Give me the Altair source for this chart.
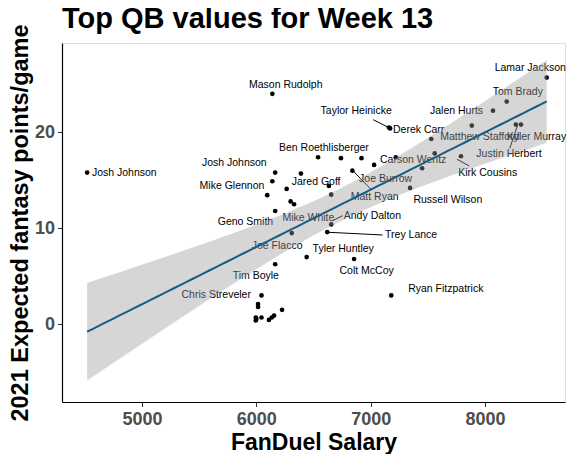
import altair as alt
import pandas as pd
import numpy as np

# ---- data ----
salary = [4520, 6140, 6540, 6740, 6920, 7030, 7220, 7170, 7160, 6840,
          7530, 7560, 7450, 7345, 7790, 7885, 8070, 8190, 8540, 8270,
          8315, 6655, 6635, 6390, 6655, 6620, 6165, 6140, 6265, 6095,
          6300, 6330, 6165, 6310, 6440, 6165, 6855, 7180, 6045, 6015,
          6015, 6225, 5995, 5995, 6045, 6110, 6135, 6155, 6000]
points = [15.8, 24.0, 17.4, 17.3, 17.3, 16.6, 17.4, 20.4, 20.5, 16.0,
          19.3, 17.8, 16.25, 14.2, 17.5, 20.7, 22.25, 23.2, 25.7, 20.8,
          20.8, 13.5, 14.4, 15.7, 10.4, 9.6, 15.8, 14.9, 14.1, 13.45,
          12.8, 12.5, 11.8, 9.5, 7.0, 6.25, 6.8, 3.0, 3.0, 2.1,
          1.8, 1.5, 0.7, 0.4, 0.7, 0.45, 0.7, 0.9, 0.55]

label_names = ["Josh Johnson", "Mason Rudolph", "Ben Roethlisberger", "Josh Johnson",
               "Mike Glennon", "Jared Goff", "Mike White", "Geno Smith", "Andy Dalton",
               "Joe Flacco", "Tyler Huntley", "Trey Lance", "Colt McCoy", "Tim Boyle",
               "Chris Streveler", "Ryan Fitzpatrick", "Taylor Heinicke", "Derek Carr",
               "Lamar Jackson", "Tom Brady", "Jalen Hurts", "Matthew Stafford",
               "Kyler Murray", "Justin Herbert", "Kirk Cousins", "Carson Wentz",
               "Joe Burrow", "Matt Ryan", "Russell Wilson"]
label_x = [4845, 6257, 6591, 5807, 5787, 6523, 6455, 5905, 7015, 6182, 6760, 7354,
           6965, 5995, 5649, 7657, 6873, 7420, 8396, 8287, 7751, 7955, 8450, 8210,
           8024, 7372, 7131, 7035, 7675]
label_y = [15.8, 24.9, 18.36, 16.77, 14.44, 14.82, 11.1, 10.63, 11.25, 8.16, 7.81,
           9.27, 5.55, 5.03, 3.02, 3.65, 22.22, 20.24, 26.67, 24.17, 22.22, 19.48,
           19.54, 17.71, 15.73, 17.08, 15.14, 13.23, 12.95]

# connector segments (point -> label)
seg_x = [7168, 7756, 8284, 6847, 6667, 6628]
seg_y = [20.44, 17.19, 20.69, 15.97, 10.79, 9.58]
seg_x2 = [7022, 7861, 8217, 7008, 6754, 7104]
seg_y2 = [21.31, 16.49, 18.33, 13.99, 11.31, 9.30]

# ---- linear fit with 95% confidence band ----
xa = np.array(salary, dtype=float)
ya = np.array(points, dtype=float)
n = len(xa)
slope, intercept = np.polyfit(xa, ya, 1)
resid = ya - (slope * xa + intercept)
s = np.sqrt(np.sum(resid ** 2) / (n - 2))
sxx = np.sum((xa - xa.mean()) ** 2)
tcrit = 2.012
xg = np.linspace(xa.min(), xa.max(), 80)
fit = slope * xg + intercept
se = s * np.sqrt(1.0 / n + (xg - xa.mean()) ** 2 / sxx)

pts = pd.DataFrame({"salary": salary, "points": points})
labs = pd.DataFrame({"name": label_names, "lx": label_x, "ly": label_y})
segs = pd.DataFrame({"x": seg_x, "y": seg_y, "x2": seg_x2, "y2": seg_y2})
band = pd.DataFrame({"salary": xg, "fit": fit, "lo": fit - tcrit * se, "hi": fit + tcrit * se})

FONT = "Liberation Sans"
xs = alt.Scale(domain=[4300, 8700], nice=False, zero=False)
ys = alt.Scale(domain=[-8.1, 29.3], nice=False, zero=False)

xax = alt.Axis(values=[5000, 6000, 7000, 8000], title="FanDuel Salary", grid=False,
               labelFont=FONT, labelFontSize=18, labelFontWeight="bold", labelColor="#4d4d4d",
               titleFont=FONT, titleFontSize=23, titleFontWeight="bold", titleColor="black",
               domainColor="black", domainWidth=1.2, tickColor="#333333", tickSize=4.5,
               labelPadding=4, titlePadding=3, format="d")
yax = alt.Axis(values=[0, 10, 20], title="2021 Expected fantasy points/game", grid=False,
               labelFont=FONT, labelFontSize=18, labelFontWeight="bold", labelColor="#4d4d4d",
               titleFont=FONT, titleFontSize=23.5, titleFontWeight="bold", titleColor="black",
               domainColor="black", domainWidth=1.2, tickColor="#333333", tickSize=4.5,
               labelPadding=3, titlePadding=2)

base_pts = alt.Chart(pts).mark_circle(color="black", opacity=1, size=22).encode(
    x=alt.X("salary:Q", scale=xs, axis=xax),
    y=alt.Y("points:Q", scale=ys, axis=yax),
)

seg_layer = alt.Chart(segs).mark_rule(color="black", strokeWidth=1).encode(
    x=alt.X("x:Q", scale=xs), y=alt.Y("y:Q", scale=ys), x2="x2:Q", y2="y2:Q"
)

text_layer = alt.Chart(labs).mark_text(font=FONT, fontSize=10.5, color="black",
                                        align="center", baseline="middle").encode(
    x=alt.X("lx:Q", scale=xs), y=alt.Y("ly:Q", scale=ys), text="name:N"
)

band_layer = alt.Chart(band).mark_area(color="#999999", opacity=0.4).encode(
    x=alt.X("salary:Q", scale=xs), y=alt.Y("lo:Q", scale=ys), y2="hi:Q"
)

line_layer = alt.Chart(band).mark_line(color="#165c84", strokeWidth=2).encode(
    x=alt.X("salary:Q", scale=xs), y=alt.Y("fit:Q", scale=ys)
)

chart = alt.layer(base_pts, seg_layer, text_layer, band_layer, line_layer).properties(
    width=503, height=359,
    title=alt.TitleParams("Top QB values for Week 13", anchor="start", frame="group",
                          font=FONT, fontSize=29, fontWeight="bold", color="black",
                          offset=10, dy=20),
    autosize=alt.AutoSizeParams(type="none"),
    padding={"left": 54, "top": 35, "right": 7, "bottom": 52},
).configure_view(stroke=None).configure(background="white")

chart.save("out.html", embed_options={"renderer": "svg", "actions": False})
